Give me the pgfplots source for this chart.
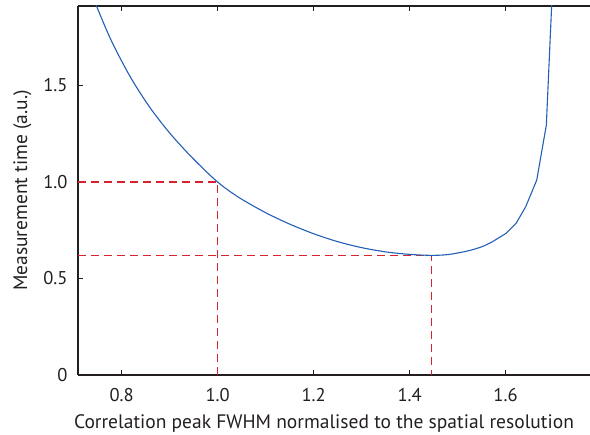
\documentclass[border=0pt]{standalone}
\usepackage{fontspec}
\setmainfont{PT Sans}
\usepackage{pgfplots}
\pgfplotsset{compat=1.18}
\definecolor{curveblue}{RGB}{35,95,180}
\definecolor{dashred}{RGB}{215,35,45}
\definecolor{axisgray}{RGB}{35,31,32}
\begin{document}
\fontsize{19}{22}\selectfont
\begin{tikzpicture}
\begin{axis}[
  name=ax,
  scale only axis,
  width=512pt, height=369pt,
  xmin=0.709, xmax=1.776,
  ymin=0, ymax=1.912,
  axis x line*=box,
  axis y line*=left,
  axis line style={line width=1.4pt, color=axisgray},
  xtick={0.8,1.0,1.2,1.4,1.6},
  ytick={0,0.5,1.0,1.5},
  xticklabels={0.8,1.0,1.2,1.4,1.6},
  yticklabels={0,0.5,1.0,1.5},
  xtick pos=both,
  ytick pos=left,
  tick align=inside,
  major tick length=5pt,
  tick style={line width=0.9pt, color=axisgray},
  tick label style={font=\fontsize{18.5}{22}\selectfont, color=axisgray},
  xticklabel style={yshift=-7pt},
  yticklabel style={xshift=-4pt},
  /pgf/number format/assume math mode=true,
  xlabel={Correlation peak FWHM normalised to the spatial resolution},
  ylabel={Measurement time (a.u.)},
  label style={font=\fontsize{19.5}{22}\selectfont, color=axisgray},
  xlabel style={xshift=-10pt},
  ylabel style={yshift=-1pt},
  clip=true,
]
\addplot[dashred, line width=1.1pt, dash pattern=on 8pt off 5pt] coordinates {(0.709,1.0) (1.0,1.0) (1.0,0)};
\addplot[dashred, line width=1.1pt, dash pattern=on 8pt off 5pt] coordinates {(0.709,0.62) (1.445,0.62) (1.445,0)};
\addplot[curveblue, line width=1.1pt, smooth] coordinates {
(0.734,2.0) (0.748,1.909) (0.78,1.724) (0.82,1.536) (0.86,1.382) (0.90,1.254)
(0.94,1.144) (0.98,1.045) (1.0,1.0) (1.02,0.961) (1.05,0.911) (1.10,0.841)
(1.15,0.782) (1.20,0.732) (1.25,0.691) (1.30,0.660) (1.35,0.638) (1.40,0.625)
(1.445,0.620) (1.48,0.624) (1.52,0.642) (1.55,0.664) (1.573,0.691)};
\addplot[curveblue, line width=1.1pt] coordinates {
(1.573,0.691) (1.601,0.734) (1.622,0.786) (1.642,0.872) (1.665,1.01) (1.685,1.295) (1.696,1.91) (1.697,2.0)};
\end{axis}
\pgfresetboundingbox
\path[use as bounding box] ([xshift=-78pt,yshift=-60pt]ax.south west) rectangle ([yshift=6pt]ax.north east);
\end{tikzpicture}
\end{document}
